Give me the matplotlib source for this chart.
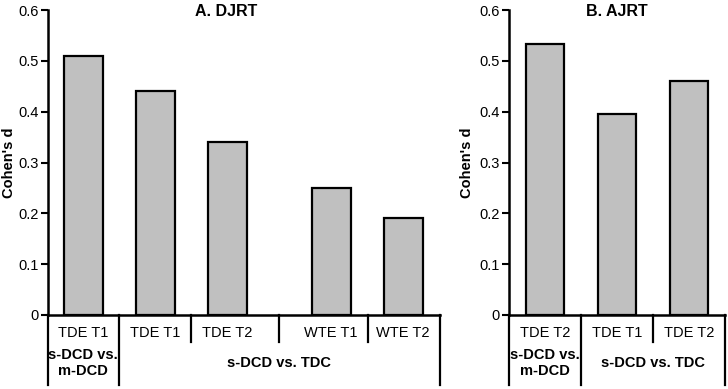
import matplotlib.pyplot as plt

plt.rcParams['font.family'] = ['Liberation Sans', 'DejaVu Sans']

# Panel A data
a_pos = [0, 1, 2, 3.44, 4.44]
a_vals = [0.51, 0.44, 0.34, 0.25, 0.19]
a_ticks = ['TDE T1', 'TDE T1', 'TDE T2', 'WTE T1', 'WTE T2']
a_groups = ['s-DCD vs.\nm-DCD', 's-DCD vs. TDC']
a_seps = [0.49, 1.49, 2.72, 3.95]
a_long = [0.49]

# Panel B data
b_pos = [0, 1, 2]
b_vals = [0.533, 0.395, 0.46]
b_ticks = ['TDE T2', 'TDE T1', 'TDE T2']
b_groups = ['s-DCD vs.\nm-DCD', 's-DCD vs. TDC']
b_seps = [0.5, 1.5]
b_long = [0.5]

W, H = 728, 389
fig = plt.figure(figsize=(W / 100, H / 100), dpi=100)

def make_axes(x0, x1):
    return fig.add_axes([x0 / W, (H - 315) / H, (x1 - x0) / W, 305 / H])

def draw_panel(ax, pos, vals, ticks, groups, seps, longs, xlim, group_x, title, title_x, ylab_x):
    ax.bar(pos, vals, width=0.54, color='#c0c0c0', edgecolor='black', linewidth=1.6, zorder=2)
    ax.set_xlim(*xlim)
    ax.set_ylim(0, 0.6)
    ax.set_yticks([0, 0.1, 0.2, 0.3, 0.4, 0.5, 0.6])
    ax.set_yticklabels(['0', '0.1', '0.2', '0.3', '0.4', '0.5', '0.6'], fontsize=10.5)
    ax.set_xticks([])
    for s in ['top', 'right']:
        ax.spines[s].set_visible(False)
    ax.spines['left'].set_linewidth(1.8)
    ax.spines['bottom'].set_linewidth(1.8)
    ax.tick_params(axis='y', direction='out', length=5, width=1.5, pad=2)
    ax.set_ylabel("Cohen's d", fontsize=10.5, fontweight='bold', va='center')
    ax.yaxis.set_label_coords(ylab_x, 0.5)
    ax.text(title_x, 0.995, title, transform=ax.transAxes, ha='center', va='center',
            fontsize=11.5, fontweight='bold')

    tr = ax.get_xaxis_transform()
    # table lines under the axis
    ax.plot([xlim[0], xlim[0]], [0, -0.23], color='black', lw=1.6, transform=tr, clip_on=False)
    ax.plot([xlim[1], xlim[1]], [0, -0.23], color='black', lw=1.6, transform=tr, clip_on=False)
    for s in seps:
        bottom = -0.23 if s in longs else -0.088
        ax.plot([s, s], [0, bottom], color='black', lw=1.6, transform=tr, clip_on=False)
    for p, t in zip(pos, ticks):
        ax.text(p, -0.058, t, transform=tr, ha='center', va='center', fontsize=10.5)
    for gx, g in zip(group_x, groups):
        ax.text(gx, -0.157, g, transform=tr, ha='center', va='center', fontsize=10.5,
                fontweight='bold', linespacing=1.15)

ax1 = make_axes(48, 440)
draw_panel(ax1, a_pos, a_vals, a_ticks, a_groups, a_seps, a_long, (-0.49, 4.95),
           [0, 2.72], 'A. DJRT', 0.455, -0.0995)

ax2 = make_axes(509, 725)
draw_panel(ax2, b_pos, b_vals, b_ticks, b_groups, b_seps, b_long, (-0.5, 2.5),
           [0, 1.5], 'B. AJRT', 0.5, -0.194)

fig.savefig('out.png', dpi=100)
